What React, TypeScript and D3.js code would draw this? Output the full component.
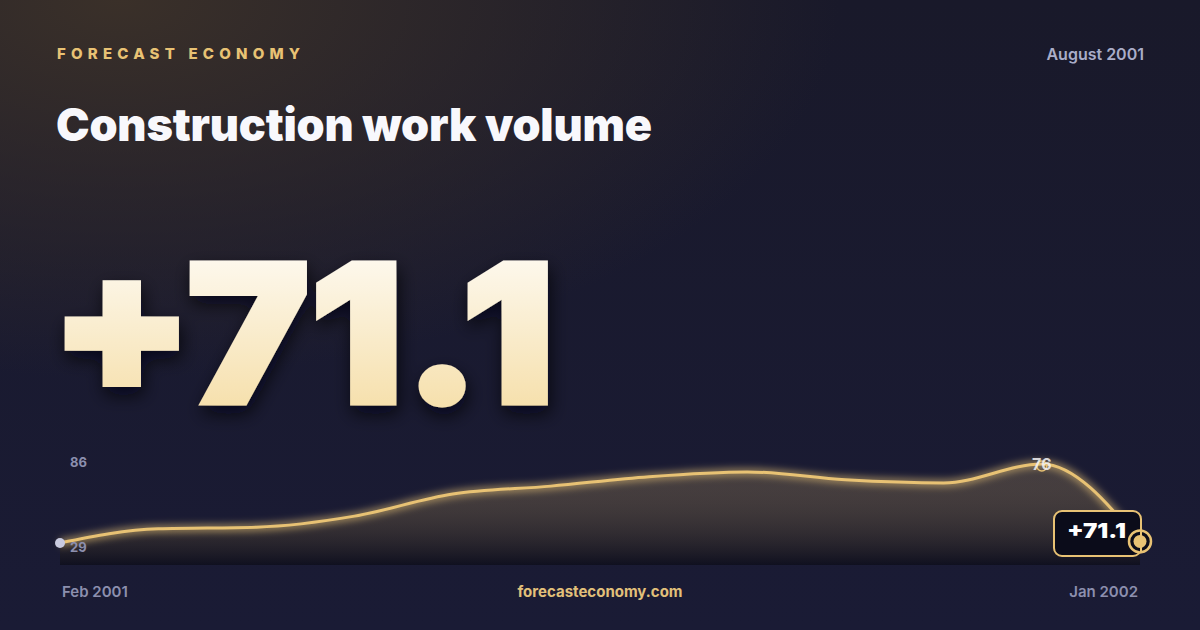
import * as d3 from "d3";

const WIDTH = 1200;
const HEIGHT = 630;

// series: monthly readings, Feb 2001 .. Jan 2002
const months = [
  "Feb 2001",
  "Mar 2001",
  "Apr 2001",
  "May 2001",
  "Jun 2001",
  "Jul 2001",
  "Aug 2001",
  "Sep 2001",
  "Oct 2001",
  "Nov 2001",
  "Dec 2001",
  "Jan 2002",
];
const values = [71.0, 71.9, 72.0, 72.7, 74.1, 74.6, 75.2, 75.5, 75.0, 74.8, 76.0, 71.1];
const yTickLabels = ["86", "29"];
const peakLabel = "76";
const headline = "+71.1";

const BRAND = "FORECAST ECONOMY";
const TITLE = "Construction work volume";
const DATE_LABEL = "August 2001";
const SITE = "forecasteconomy.com";

const GOLD = "#e8c274";
const MUTED = "#8c8fae";
const FONT = "Inter, 'Noto Sans', sans-serif";

const PLOT = { left: 60, right: 1140, top: 464, bottom: 543, floor: 565 };

export default function App() {
  const xScale = d3
    .scalePoint<string>()
    .domain(months)
    .range([PLOT.left, PLOT.right]);

  const [minV, maxV] = d3.extent(values) as [number, number];
  const yScale = d3
    .scaleLinear()
    .domain([minV, maxV])
    .range([PLOT.bottom, PLOT.top]);

  const points: [number, number][] = values.map((v, i) => [
    xScale(months[i]) ?? 0,
    yScale(v),
  ]);

  const line = d3.line().curve(d3.curveMonotoneX)(points) ?? undefined;
  const area =
    d3
      .area()
      .curve(d3.curveMonotoneX)
      .y0(PLOT.floor)(points) ?? undefined;

  const peakIdx = d3.maxIndex(values);
  const [px, py] = points[peakIdx];
  const [sx, sy] = points[0];
  const [ex, ey] = points[points.length - 1];

  // badge sits left of the last point, its right edge runs through the marker
  const badge = { x: 1054, y: 511, w: ex + 1 - 1054, h: 45 };

  return (
    <svg
      width={WIDTH}
      height={HEIGHT}
      style={{ position: "absolute", left: 0, top: 0, display: "block" }}
    >
      <defs>
        <linearGradient id="bg" x1="0" y1="0" x2="0" y2="1">
          <stop offset="0%" stopColor="#19192a" />
          <stop offset="100%" stopColor="#1a1b35" />
        </linearGradient>
        <radialGradient id="warm" cx="0.1" cy="0" r="0.6">
          <stop offset="0%" stopColor="#3a3029" stopOpacity={1} />
          <stop offset="100%" stopColor="#3a3029" stopOpacity={0} />
        </radialGradient>
        <linearGradient id="numFill" x1="0" y1="0" x2="0" y2="1">
          <stop offset="0%" stopColor="#ffffff" />
          <stop offset="100%" stopColor="#f4d99a" />
        </linearGradient>
        <linearGradient id="areaFill" x1="0" y1="0" x2="0" y2="1">
          <stop offset="0%" stopColor="#e8c274" stopOpacity={0.2} />
          <stop offset="100%" stopColor="#07070f" stopOpacity={0.55} />
        </linearGradient>
        <filter id="shadow" x="-10%" y="-10%" width="130%" height="140%">
          <feDropShadow dx="2" dy="8" stdDeviation="9" floodColor="#05050c" floodOpacity="0.75" />
        </filter>
        <filter id="glow" x="-5%" y="-50%" width="110%" height="200%">
          <feGaussianBlur stdDeviation="3.5" />
        </filter>
      </defs>

      {/* background */}
      <rect width={WIDTH} height={HEIGHT} fill="url(#bg)" />
      <rect width={WIDTH} height={HEIGHT} fill="url(#warm)" />

      {/* header */}
      <text
        x={57}
        y={59}
        fill={GOLD}
        fontFamily={FONT}
        fontSize={15}
        fontWeight={800}
        letterSpacing={5.2}
      >
        {BRAND}
      </text>
      <text
        x={1144}
        y={60}
        fill="#a9adc8"
        fontFamily={FONT}
        fontSize={16}
        fontWeight={600}
        textAnchor="end"
      >
        {DATE_LABEL}
      </text>
      <text
        x={56}
        y={141}
        fill="#f8f8fc"
        fontFamily={FONT}
        fontSize={45}
        fontWeight={900}
        letterSpacing={-0.2}
      >
        {TITLE}
      </text>

      {/* headline number */}
      <text
        x={50}
        y={403}
        fill="url(#numFill)"
        stroke="url(#numFill)"
        strokeWidth={5}
        strokeLinejoin="miter"
        fontFamily={FONT}
        fontSize={193}
        fontWeight={900}
        textLength={505}
        lengthAdjust="spacingAndGlyphs"
        filter="url(#shadow)"
      >
        {headline}
      </text>

      {/* area + line */}
      <path d={area} fill="url(#areaFill)" />
      <path
        d={line}
        fill="none"
        stroke={GOLD}
        strokeWidth={8}
        strokeOpacity={0.55}
        filter="url(#glow)"
      />
      <path d={line} fill="none" stroke={GOLD} strokeWidth={3} strokeLinejoin="round" />

      {/* y labels */}
      <text x={70} y={467} fill={MUTED} fontFamily={FONT} fontSize={13} fontWeight={700}>
        {yTickLabels[0]}
      </text>
      <text x={70} y={552} fill={MUTED} fontFamily={FONT} fontSize={13} fontWeight={700}>
        {yTickLabels[1]}
      </text>

      {/* start dot */}
      <circle cx={sx} cy={sy} r={5} fill="#c9cbe0" />

      {/* peak marker */}
      <circle cx={px} cy={py + 2} r={5} fill="none" stroke={GOLD} strokeWidth={1.5} />
      <text
        x={px}
        y={470}
        fill="#f3f3f8"
        fillOpacity={0.85}
        fontFamily={FONT}
        fontSize={16}
        fontWeight={700}
        textAnchor="middle"
      >
        {peakLabel}
      </text>

      {/* end badge */}
      <rect
        x={badge.x}
        y={badge.y}
        width={badge.w}
        height={badge.h}
        rx={8}
        fill="#0b0c1a"
        stroke={GOLD}
        strokeWidth={2}
      />
      <text
        x={1067}
        y={538}
        fill="#ffffff"
        fontFamily={FONT}
        fontSize={20}
        fontWeight={900}
        textLength={59}
        lengthAdjust="spacingAndGlyphs"
      >
        {headline}
      </text>
      <circle cx={ex} cy={ey} r={11} fill="#0b0c1a" stroke={GOLD} strokeWidth={2.5} />
      <circle cx={ex} cy={ey} r={6.5} fill={GOLD} />
      <line x1={ex + 1} x2={ex + 1} y1={ey - 11} y2={ey + 11} stroke={GOLD} strokeWidth={2} />

      {/* footer */}
      <text x={62} y={597} fill={MUTED} fontFamily={FONT} fontSize={15} fontWeight={600}>
        {months[0]}
      </text>
      <text
        x={600}
        y={597}
        fill="#e2c07a"
        fontFamily={FONT}
        fontSize={15}
        fontWeight={700}
        textAnchor="middle"
      >
        {SITE}
      </text>
      <text
        x={1138}
        y={597}
        fill={MUTED}
        fontFamily={FONT}
        fontSize={15}
        fontWeight={600}
        textAnchor="end"
      >
        {months[months.length - 1]}
      </text>
    </svg>
  );
}
